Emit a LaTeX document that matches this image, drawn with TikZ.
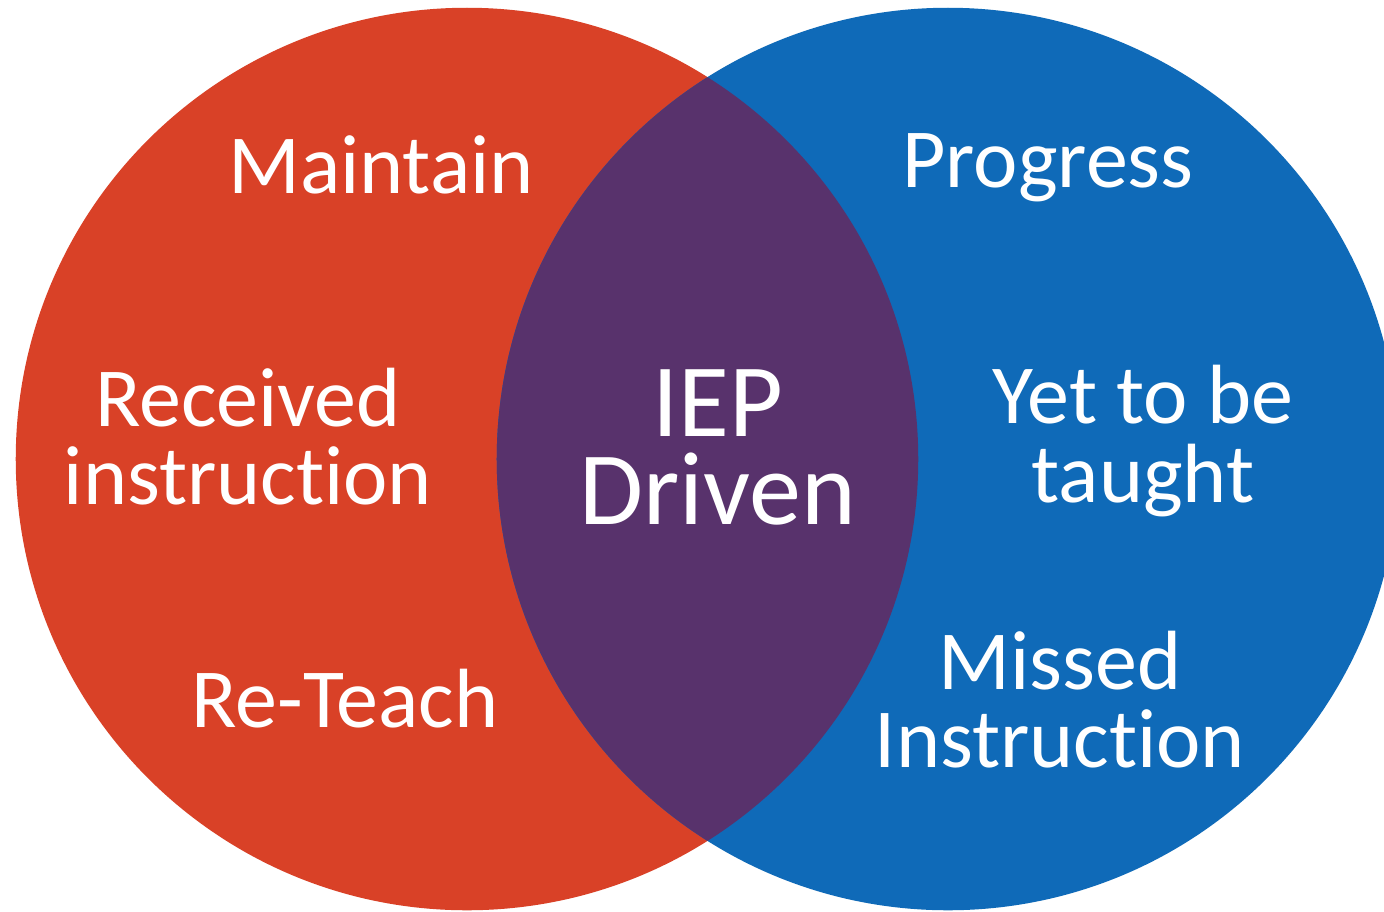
\documentclass[tikz,border=0pt]{standalone}
\usepackage{fontspec}
\setmainfont{Carlito}[Ligatures={NoCommon,NoRequired,NoContextual}]
\usetikzlibrary{positioning}
\definecolor{maintaincolor}{RGB}{217,65,39}
\definecolor{progresscolor}{RGB}{15,106,184}
\definecolor{iepcolor}{RGB}{88,50,108}

\begin{document}
\begin{tikzpicture}[
    x=0.01cm, y=-0.01cm,
    venn/.style={circle, minimum size=9.02cm, inner sep=0pt},
    vennlabel/.style={text=white, align=center, inner sep=0pt, font=\fontsize{23.9}{22.2}\selectfont},
    biglabel/.style={vennlabel, font=\fontsize{29.6}{25}\selectfont}
]

% Page
\clip (0,0) rectangle (1384,911);
\fill[white] (0,0) rectangle (1384,911);

% Circles
\node[venn, fill=maintaincolor] (left) at (467,459) {};
\node[venn, fill=progresscolor] (right) at (948,459) {};

% Overlap
\begin{scope}
    \clip (left.center) circle (4.51cm);
    \fill[iepcolor] (right.center) circle (4.51cm);
\end{scope}

% Left side
\node[vennlabel, anchor=base] (maintain) at (381,193) {Maintain};
\node[vennlabel] (received) at (248,437) {Received\\instruction};
\node[vennlabel, anchor=base] (reteach) at (345,727) {Re-Teach};

% Middle
\node[biglabel] (iep) at (718,447) {IEP\\Driven};

% Right side
\node[vennlabel, anchor=base] (progress) at (1048,187) {Progress};
\node[vennlabel] (taught) at (1143,441) {Yet to be\\taught};
\node[vennlabel] (missed) at (1060,700) {Missed\\Instruction};

\end{tikzpicture}
\end{document}
